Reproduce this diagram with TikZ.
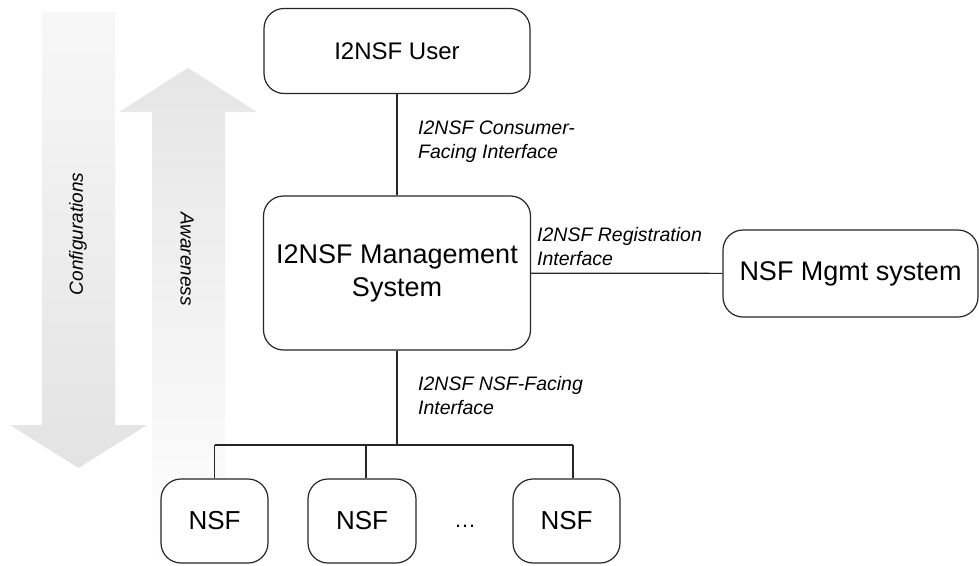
\documentclass[tikz,border=0pt]{standalone}
\usepackage{fontspec}
\setmainfont{Liberation Sans}
\begin{document}
\begin{tikzpicture}[x=1pt,y=-1pt,
  box/.style={draw=black!85, line width=1.2pt, rounded corners=20pt, fill=white, inner sep=0pt, align=center},
  conn/.style={draw=black!85, line width=1.2pt},
  lbl/.style={font=\fontsize{19.5}{24}\selectfont\itshape, align=left, anchor=west, inner sep=0pt}]
\useasboundingbox[fill=white] (0,0) rectangle (979,565);
% big shaded arrows
\shade[top color=gray!6, bottom color=gray!22]
  (42,12) -- (115,12) -- (115,425) -- (147,425) -- (78.5,468) -- (10,425) -- (42,425) -- cycle;
\shade[top color=gray!20, bottom color=white]
  (152,565) -- (152,112) -- (119,112) -- (188,68) -- (257,112) -- (225,112) -- (225,565) -- cycle;
\node[rotate=90, font=\fontsize{19}{23}\selectfont\itshape] (conf) at (78,234) {Configurations};
\node[rotate=-90, font=\fontsize{19}{23}\selectfont\itshape] (aware) at (187,259) {Awareness};
% boxes
\node[box, minimum width=266pt, minimum height=85pt, font=\fontsize{24}{29}\selectfont] (user) at (397,51) {I2NSF User};
\node[box, minimum width=267pt, minimum height=154pt, font=\fontsize{27}{33}\selectfont] (mgmt) at (397,273) {I2NSF Management\\System};
\node[box, minimum width=255pt, minimum height=87pt, font=\fontsize{27}{33}\selectfont] (nsfm) at (850.5,273.5) {NSF Mgmt system};
\node[box, minimum width=107pt, minimum height=84pt, font=\fontsize{26}{31}\selectfont] (nsf1) at (214.5,521) {NSF};
\node[box, minimum width=108pt, minimum height=84pt, font=\fontsize{26}{31}\selectfont] (nsf2) at (362,521) {NSF};
\node[box, minimum width=107pt, minimum height=84pt, font=\fontsize{26}{31}\selectfont] (nsf3) at (566.5,521) {NSF};
\node[anchor=base, font=\fontsize{22}{26}\selectfont, inner sep=0pt] (dots) at (465,527) {…};
% connectors
\coordinate (bus) at (397,445);
\coordinate (b1) at (214.5,445);
\coordinate (b2) at (366,445);
\coordinate (b3) at (573,445);
\draw[conn] (user) -- (mgmt);
\draw[conn] (mgmt) -- (nsfm);
\draw[conn] (mgmt) -- (bus);
\draw[conn] (b1) -- (b3);
\draw[conn] (b1) -- (nsf1);
\draw[conn] (b2) -- (b2 |- nsf2.north);
\draw[conn] (b3) -- (b3 |- nsf3.north);
% labels
\node[lbl] (l1) at (418,142) {I2NSF Consumer-\\Facing Interface};
\node[lbl] (l2) at (537,246.5) {I2NSF Registration\\Interface};
\node[lbl] (l3) at (418,396) {I2NSF NSF-Facing\\Interface};
\end{tikzpicture}
\end{document}
